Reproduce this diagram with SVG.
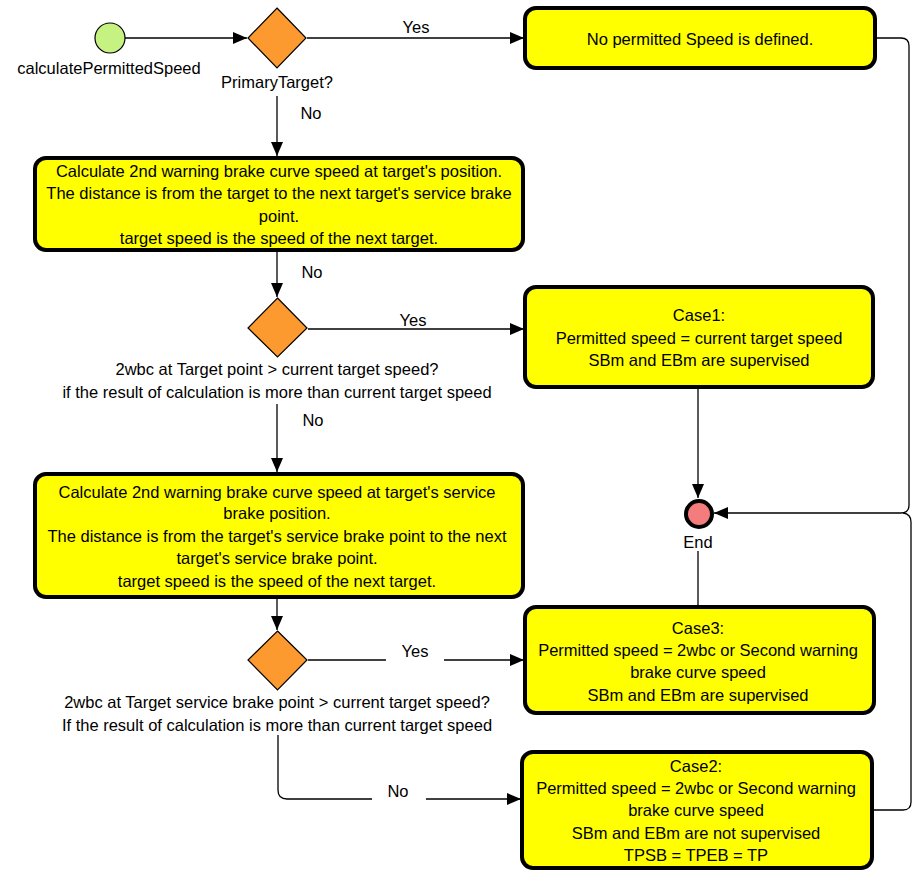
<svg xmlns="http://www.w3.org/2000/svg" width="918" height="878" viewBox="0 0 918 878">
<defs>
<style>
text{font-family:"Liberation Sans",Arial,sans-serif;font-size:16.5px;fill:#000;text-anchor:middle;dominant-baseline:central}
.box{fill:#ffff00;stroke:#000;stroke-width:4}
.dec{fill:#fc9a30;stroke:#000;stroke-width:1.2}
.edge{fill:none;stroke:#000;stroke-width:1.3}
.bg{fill:#fff}
</style>
<marker id="arr" markerWidth="14" markerHeight="12" refX="14" refY="6" orient="auto" markerUnits="userSpaceOnUse">
<path d="M0,0 L14,6 L0,12 Z" fill="#000"/>
</marker>
</defs>
<rect width="918" height="878" fill="#fff"/>

<g id="connectors">
<path class="edge" d="M125,38 L247,38" marker-end="url(#arr)"/>
<path class="edge" d="M307,38 L524,38" marker-end="url(#arr)"/>
<path class="edge" d="M277,96 L277,156" marker-end="url(#arr)"/>
<path class="edge" d="M277,252 L277,297" marker-end="url(#arr)"/>
<path class="edge" d="M308,329 L524,329" marker-end="url(#arr)"/>
<path class="edge" d="M277,404 L277,472" marker-end="url(#arr)"/>
<path class="edge" d="M277,599 L277,630" marker-end="url(#arr)"/>
<path class="edge" d="M308,660 L524,660" marker-end="url(#arr)"/>
<path class="edge" d="M278,735 L278,790 Q278,799 287,799 L521,799" marker-end="url(#arr)"/>
<path class="edge" d="M698,389 L698,498" marker-end="url(#arr)"/>
<path class="edge" d="M877,38 L901,38 Q909,38 909,46 L909,505 Q909,513 901,513 L714,513" marker-end="url(#arr)"/>
<path class="edge" d="M874,810 L903,810 Q911,810 911,802 L911,522 Q911,514 903,513"/>
<path class="edge" d="M698,606 L698,551"/>
</g>

<g id="labels">
<text x="416" y="27">Yes</text>
<text x="311" y="113">No</text>
<text x="312" y="272">No</text>
<text x="413" y="320">Yes</text>
<text x="313" y="420">No</text>
<rect class="bg" x="386" y="642" width="58" height="22"/>
<text x="415" y="651">Yes</text>
<rect class="bg" x="372" y="780" width="54" height="23"/>
<text x="398" y="791">No</text>
</g>

<g id="start">
<circle cx="110" cy="38" r="15" fill="#c6f282" stroke="#000" stroke-width="1.2"/>
<text x="109" y="68">calculatePermittedSpeed</text>
</g>

<g id="primaryTarget">
<polygon class="dec" points="277,8 306,38 277,68 248,38"/>
<rect class="bg" x="214" y="72" width="126" height="20"/>
<text x="277" y="82">PrimaryTarget?</text>
</g>

<g id="noPermitted">
<rect class="box" x="525" y="8" width="350" height="60" rx="11"/>
<text x="700" y="39">No permitted Speed is defined.</text>
</g>

<g id="calcTarget">
<rect class="box" x="35" y="158" width="488" height="92" rx="11"/>
<text x="279" y="171">Calculate 2nd warning brake curve speed at target's position.</text>
<text x="279" y="193">The distance is from the target to the next target's service brake</text>
<text x="279" y="216">point.</text>
<text x="279" y="238">target speed is the speed of the next target.</text>
</g>

<g id="dec2">
<polygon class="dec" points="277.5,298 307,328 277.5,357 248,328"/>
<rect class="bg" x="60" y="360" width="436" height="42"/>
<text x="277" y="369">2wbc at Target point &gt; current target speed?</text>
<text x="277" y="392">if the result of calculation is more than current target speed</text>
</g>

<g id="case1">
<rect class="box" x="525" y="287" width="348" height="100" rx="11"/>
<text x="699" y="315">Case1:</text>
<text x="699" y="338">Permitted speed = current target speed</text>
<text x="699" y="360">SBm and EBm are supervised</text>
</g>

<g id="end">
<circle cx="699" cy="514" r="13" fill="#f47c7c" stroke="#000" stroke-width="4"/>
<rect class="bg" x="680" y="532" width="38" height="19"/>
<text x="698" y="542">End</text>
</g>

<g id="calcService">
<rect class="box" x="35" y="474" width="488" height="123" rx="11"/>
<text x="277" y="492">Calculate 2nd warning brake curve speed at target's service</text>
<text x="277" y="513">brake position.</text>
<text x="277" y="536">The distance is from the target's service brake point to the next</text>
<text x="277" y="558">target's service brake point.</text>
<text x="277" y="581">target speed is the speed of the next target.</text>
</g>

<g id="dec3">
<polygon class="dec" points="277.5,631 307,660 277.5,690 248,660"/>
<rect class="bg" x="55" y="692" width="446" height="42"/>
<text x="277" y="702">2wbc at Target service brake point &gt; current target speed?</text>
<text x="277" y="725">If the result of calculation is more than current target speed</text>
</g>

<g id="case3">
<rect class="box" x="525" y="607" width="349" height="106" rx="11"/>
<text x="698" y="628">Case3:</text>
<text x="698" y="650">Permitted speed = 2wbc or Second warning</text>
<text x="698" y="672">brake curve speed</text>
<text x="698" y="695">SBm and EBm are supervised</text>
</g>

<g id="case2">
<rect class="box" x="522" y="752" width="350" height="116" rx="11"/>
<text x="696" y="766">Case2:</text>
<text x="696" y="788">Permitted speed = 2wbc or Second warning</text>
<text x="696" y="810">brake curve speed</text>
<text x="696" y="833">SBm and EBm are not supervised</text>
<text x="696" y="855">TPSB = TPEB = TP</text>
</g>
</svg>
